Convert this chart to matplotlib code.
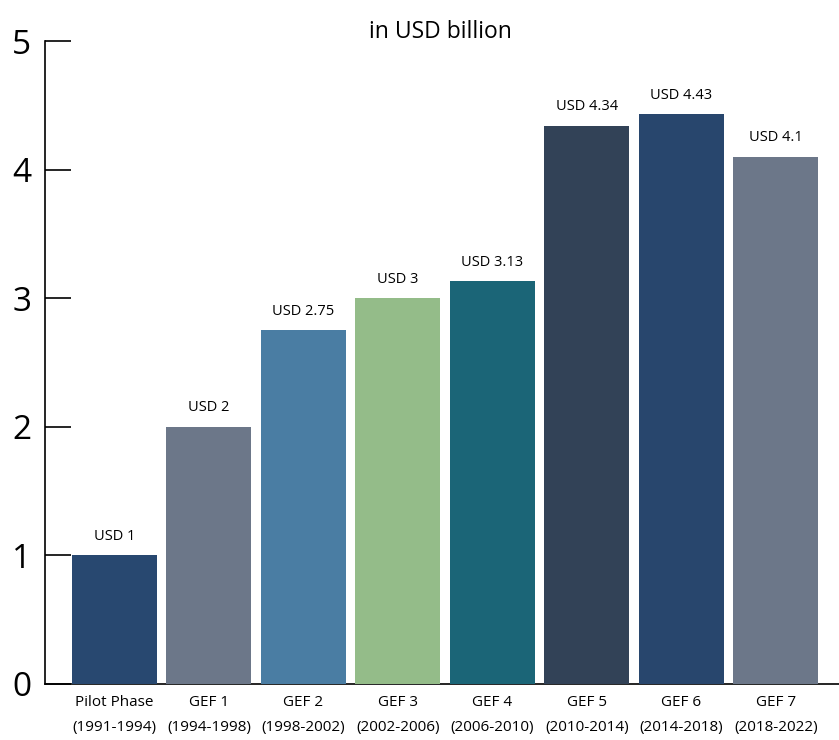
import matplotlib
matplotlib.use("Agg")
import matplotlib.pyplot as plt

phases = ["Pilot Phase", "GEF 1", "GEF 2", "GEF 3", "GEF 4", "GEF 5", "GEF 6", "GEF 7"]
periods = ["(1991-1994)", "(1994-1998)", "(1998-2002)", "(2002-2006)", "(2006-2010)",
           "(2010-2014)", "(2014-2018)", "(2018-2022)"]
values = [1, 2, 2.75, 3, 3.13, 4.34, 4.43, 4.1]
value_labels = ["USD 1", "USD 2", "USD 2.75", "USD 3", "USD 3.13", "USD 4.34", "USD 4.43", "USD 4.1"]
colors = ["#284870", "#6C7789", "#4A7DA3", "#94BC89", "#1B6577", "#324257", "#28466D", "#6C7789"]

plt.rcParams['font.family'] = ['Open Sans', 'DejaVu Sans']

fig = plt.figure(figsize=(8.39, 7.40), dpi=100)
ax = fig.add_axes([45/839, 1-684/740, 1-45/839, (684-41)/740])

x = list(range(len(values)))
bars = ax.bar(x, values, width=0.9, color=colors, zorder=1)
for xi, v, lab in zip(x, values, value_labels):
    ax.text(xi, v + 0.09, lab, ha="center", va="bottom", fontsize=10.5)

ax.set_xlim(-0.735, 7.667)
ax.set_ylim(0, 5)
ax.set_yticks([0, 1, 2, 3, 4, 5])
ax.tick_params(axis="y", direction="in", length=19, width=1.2, labelsize=24, pad=10)
ax.set_xticks(x)
ax.set_xticklabels([f"{p}\n{d}" for p, d in zip(phases, periods)], fontsize=11, linespacing=1.9)
ax.tick_params(axis="x", length=0, pad=8)
for s in ["top", "right"]:
    ax.spines[s].set_visible(False)
ax.spines["left"].set_linewidth(1.2)
ax.spines["bottom"].set_linewidth(1.2)
ax.spines["bottom"].set_zorder(0)

fig.text(440/839, 1-32/740, "in USD billion", ha="center", va="center", fontsize=16.5)

fig.savefig("out.png", dpi=100)
